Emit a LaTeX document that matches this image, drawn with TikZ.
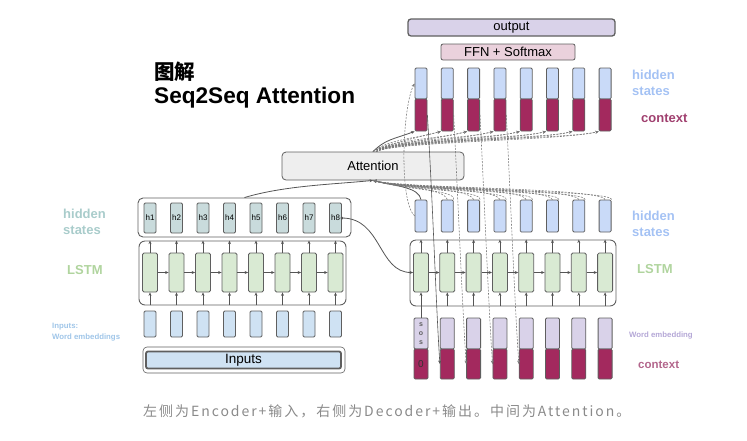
\documentclass[tikz,border=0pt]{standalone}
\usepackage{fontspec}
\setmainfont{Liberation Sans}
\newfontfamily\cjk{Noto Sans CJK SC}
\newfontfamily\cjkcap[LetterSpace=14]{Noto Sans CJK SC}
\usetikzlibrary{arrows.meta}
\newcommand\myfs[1]{\fontsize{#1}{#1}\selectfont}
\definecolor{bordc}{HTML}{5F5F5F}
\definecolor{arrc}{HTML}{555555}
\definecolor{dashc}{HTML}{777777}
\definecolor{ehid}{HTML}{C9DBDC}
\definecolor{lgreen}{HTML}{D9EAD3}
\definecolor{lblue}{HTML}{C9DAF8}
\definecolor{eblue}{HTML}{CFE2F3}
\definecolor{lav}{HTML}{D9D2E9}
\definecolor{crim}{HTML}{A3295E}
\definecolor{lpink}{HTML}{EAD1DC}
\definecolor{attf}{HTML}{EEEEEE}
\definecolor{labteal}{HTML}{A9CCCB}
\definecolor{labgreen}{HTML}{B0D49E}
\definecolor{labblue}{HTML}{A4C2F4}
\definecolor{labinp}{HTML}{9FC5E8}
\definecolor{labctx}{HTML}{A0406F}
\definecolor{labwe}{HTML}{B4A7D6}
\definecolor{capc}{HTML}{8A8A8A}
\begin{document}
\begin{tikzpicture}[x=1pt,y=-1pt,
  bord/.style={draw=bordc, line width=0.8pt},
  colr/.style={bord, rounded corners=1.2pt, inner sep=0pt, minimum width=12pt},
  cellr/.style={bord, rounded corners=1.5pt, inner sep=0pt, minimum width=15pt, minimum height=39pt, fill=lgreen},
  bigbox/.style={draw=bordc, line width=0.9pt, rounded corners=6pt, inner sep=0pt},
  arr/.style={draw=arrc, line width=0.6pt, -{Stealth[length=3.5pt,width=3pt]}},
  dsh/.style={draw=dashc, line width=0.55pt, dash pattern=on 2pt off 1.3pt, -{Stealth[length=3.5pt,width=3pt]}},
  lab/.style={anchor=west, inner sep=0pt, font=\bfseries\myfs{13}},
  small/.style={anchor=west, inner sep=0pt, font=\bfseries\myfs{7.8}}
]
\useasboundingbox (0,0) rectangle (747,440);

% ---------- title ----------
\node[anchor=west, inner sep=0pt, font=\cjk\bfseries\myfs{20.5}] (t1) at (154,72) {图解};
\node[anchor=west, inner sep=0pt, font=\bfseries\myfs{22.6}] (t2) at (154,98) {Seq2Seq Attention};

% ---------- encoder ----------
\node[bigbox, rounded corners=5pt, minimum width=213pt, minimum height=39pt] (ehbox) at (244.5,217.5) {};
\node[bigbox, minimum width=207pt, minimum height=64pt] (elstm) at (242.5,273) {};
\node[bord, rounded corners=4pt, line width=0.6pt, inner sep=0pt, minimum width=202pt, minimum height=26pt] (inpo) at (244,360) {};
\node[draw=bordc, line width=1.8pt, rounded corners=2pt, fill=eblue, inner sep=0pt, minimum width=195pt, minimum height=17pt, font=\myfs{13.5}] (inp) at (243.5,360) {Inputs};

\foreach \i in {1,...,8}{
  \pgfmathsetmacro\xx{150+26.5*(\i-1)}
  \node[colr, fill=ehid, minimum height=30pt, font=\myfs{8}] (h\i) at (\xx,218) {h\i};
  \node[cellr] (ec\i) at (\xx,272.5) {};
  \node[colr, fill=eblue, minimum height=26pt] (ee\i) at (\xx,324) {};
  \draw[arr] (ec\i.north) -- (ec\i.north |- elstm.north);
  \draw[arr] (ec\i.south |- elstm.south) -- (ec\i.south);
}
\foreach \i/\j in {1/2,2/3,3/4,4/5,5/6,6/7,7/8}{
  \draw[arr] (ec\i.east) -- (ec\j.west);
}

% ---------- decoder ----------
\node[draw=bordc, line width=1.3pt, rounded corners=3pt, fill=lav, inner sep=0pt, minimum width=207pt, minimum height=17pt, font=\myfs{13}] (outp) at (511.5,27.5) {output};
\node[bord, rounded corners=2pt, fill=lpink, inner sep=0pt, minimum width=134pt, minimum height=16pt, font=\myfs{13}] (ffn) at (508,52) {FFN + Softmax};
\node[bigbox, minimum width=206pt, minimum height=66pt] (dlstm) at (513,273) {};

\foreach \i in {1,...,8}{
  \pgfmathsetmacro\xx{421+26.3*(\i-1)}
  \node[colr, fill=lblue, minimum height=31pt] (dt\i) at (\xx,83.5) {};
  \node[colr, fill=crim, minimum height=32pt] (dcr\i) at (\xx,115) {};
  \node[colr, fill=lblue, minimum height=32pt] (dh\i) at (\xx,216) {};
  \node[cellr] (dc\i) at (\xx,272.5) {};
  \node[colr, fill=lav, minimum width=14pt, minimum height=31pt] (db\i) at (\xx,333.5) {};
  \node[colr, fill=crim, minimum width=14pt, minimum height=30pt] (dbc\i) at (\xx,364) {};
  \draw[arr] (dc\i.north) -- (dc\i.north |- dlstm.north);
}
\foreach \i in {2,...,8}{
  \draw[arr] (dc\i.south |- dlstm.south) -- (dc\i.south);
}
\foreach \i/\j in {1/2,2/3,3/4,4/5,5/6,6/7,7/8}{
  \draw[arr] (dc\i.east) -- (dc\j.west);
}
\node[inner sep=0pt, font=\bfseries\myfs{7}, text=bordc] (s1) at (421,325) {s};
\node[inner sep=0pt, font=\bfseries\myfs{7}, text=bordc] (s2) at (421,334) {o};
\node[inner sep=0pt, font=\bfseries\myfs{7}, text=bordc] (s3) at (421,343) {s};
\node[inner sep=0pt, font=\myfs{10}, text=black!80] (zero) at (421,364) {0};
\draw[arr] (db1.north) -- (dc1.south);

% ---------- attention ----------
\node[bord, rounded corners=4pt, fill=attf, inner sep=0pt, minimum width=182pt, minimum height=28pt, font=\myfs{13}] (att) at (373,166) {Attention};

% encoder -> attention
\draw[arr, line width=0.8pt] (ehbox.north) .. controls +(40,-12) and +(-40,4) .. (att.south);
% h8 -> decoder first cell
\fill[arrc] (h8.east) circle (1.6pt);
\draw[arr, line width=0.8pt] (h8.east) .. controls +(40,0) and +(-35,0) .. (dc1.west);

% attention -> contexts (top fan)
\draw[arr, line width=0.8pt] (att.north) .. controls +(12,-12) and +(-22,8) .. (dcr1.south west);
\foreach \i in {2,...,8}{
  \draw[dsh] (att.north) .. controls +(15,-12) and +(-30,8) .. (dcr\i.south west);
  \draw[dsh] ([xshift=3pt]att.north) .. controls +(18,-10) and +(-34,9) .. (dcr\i.south west);
}
% decoder hidden -> attention (lower fan)
\draw[arr, line width=0.8pt] (dh1.north) .. controls +(-2,-12) and +(25,6) .. (att.south);
\foreach \i in {2,...,8}{
  \draw[dsh] (dh\i.north) .. controls +(-4,-12) and +(30,8) .. (att.south);
  \draw[dsh] (dh\i.north east) .. controls +(2,-10) and +(34,10) .. (att.south);
}
% copy hidden state up
\draw[dsh] (dh1.west) .. controls +(-16,-15) and +(-12,22) .. (dt1.west);

% context -> next input
\draw[arr] (dcr1.east) .. controls +(6,100) and +(-4,-60) .. (dbc2.west);
\foreach \i/\j in {2/3,3/4,4/5}{
  \draw[dsh] (dcr\i.east) .. controls +(5,100) and +(-4,-60) .. (dbc\j.west);
}

% ---------- side labels ----------
\node[lab, text=labteal] (lh1) at (63,214) {hidden};
\node[lab, text=labteal] (lh2) at (63,230) {states};
\node[lab, text=labgreen] (ll) at (67,270) {LSTM};
\node[small, text=labinp] (li1) at (52,327) {Inputs:};
\node[small, text=labinp] (li2) at (52,337) {Word embeddings};

\node[lab, text=labblue] (rh1) at (632,75) {hidden};
\node[lab, text=labblue] (rh2) at (632,91) {states};
\node[lab, text=labctx] (rc) at (641,118) {context};
\node[lab, text=labblue] (rh3) at (632,216) {hidden};
\node[lab, text=labblue] (rh4) at (632,232) {states};
\node[lab, text=labgreen] (rl) at (637,269) {LSTM};
\node[small, text=labwe] (rw) at (629,335) {Word embedding};
\node[lab, font=\bfseries\myfs{11.5}, text=labctx!80] (rc2) at (638,365) {context};

% ---------- caption ----------
\node[anchor=west, inner sep=0pt, font=\cjkcap\myfs{14}, text=capc] (cap) at (143,411) {左侧为Encoder+输入，右侧为Decoder+输出。中间为Attention。};
\end{tikzpicture}
\end{document}
